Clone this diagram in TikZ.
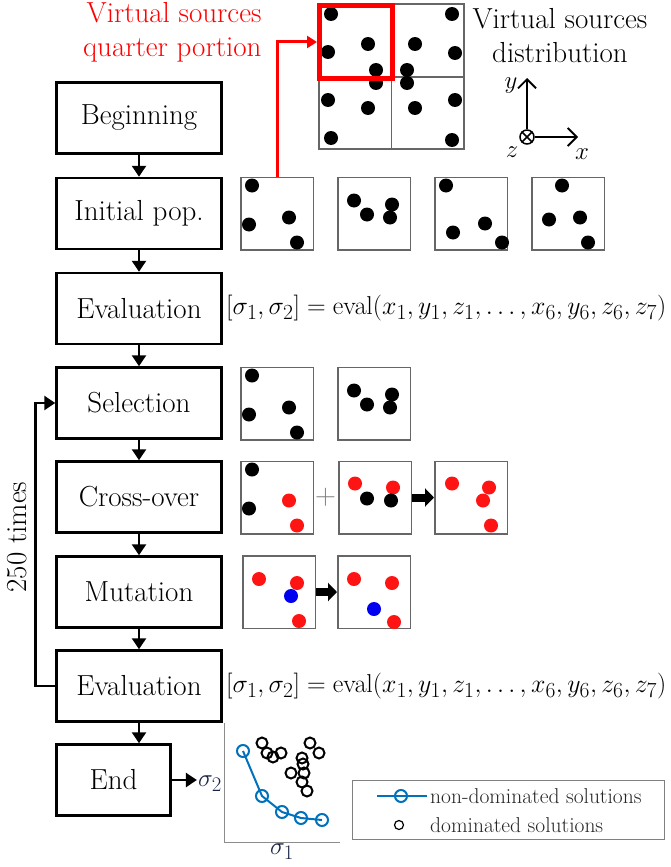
\documentclass[tikz,border=0pt]{standalone}
\usetikzlibrary{arrows.meta,calc}
\definecolor{mblue}{RGB}{0,114,189}
\definecolor{navy}{RGB}{25,35,70}
\definecolor{dotred}{RGB}{255,20,20}
\definecolor{dotblue}{RGB}{0,0,240}
\newcommand\mydot[4]{\fill[#1] ($(#2.north west)+(#3,#4)$) circle[radius=7pt];}
\begin{document}
\begin{tikzpicture}[x=1pt,y=-1pt,
  font=\fontsize{29}{34}\selectfont,
  box/.style={draw, line width=2.5pt, minimum width=165pt, minimum height=71pt, inner sep=0pt},
  flow/.style={line width=2.5pt, -{Triangle[width=14pt,length=11pt]}},
  sqr/.style={draw=black!60, line width=1.5pt, minimum size=72.5pt, inner sep=0pt},
  blk/.style={line width=8pt, -{Triangle[width=18pt,length=9pt]}},
  axis/.style={line width=1.8pt, -{Straight Barb[length=9pt,width=18pt]}},
  dom/.style={line width=2pt},
  legtext/.style={anchor=west, inner sep=0pt, font=\fontsize{21.5}{26}\selectfont, text=black!85},
]
\useasboundingbox (0,0) rectangle (670,867);

% ---------- flow boxes ----------
\node[box] (b1) at (139,118) {Beginning};
\node[box] (b2) at (139,213.5) {Initial pop.};
\node[box] (b3) at (139,308.5) {Evaluation};
\node[box] (b4) at (139,403) {Selection};
\node[box] (b5) at (139,497) {Cross-over};
\node[box] (b6) at (139,592) {Mutation};
\node[box] (b7) at (139,686) {Evaluation};
\node[box, minimum width=114pt] (b8) at (113.5,780) {End};
\foreach \a/\b in {b1/b2,b2/b3,b3/b4,b4/b5,b5/b6,b6/b7} {\draw[flow] (\a) -- (\b);}
\draw[flow] (b7.south) -- (b7.south |- b8.north);
\draw[flow] (b7.west) -- ++(-20,0) |- (b4.west);
\node[rotate=90] (loop) at (17,537) {250 times};

% ---------- top: virtual sources distribution ----------
\node[sqr] (g1) at (355,40.5) {};
\node[sqr] (g2) at (427.5,40.5) {};
\node[sqr] (g3) at (355,112.5) {};
\node[sqr] (g4) at (427.5,112.5) {};
\foreach \p in {(331,14),(328,52),(368,44),(376,70),(452,14),(415,44),(455,53),(407,70),
               (376,83),(328,100),(368,108),(331,138),(407,83),(455,100),(415,108),(452,140)}
  {\fill \p circle[radius=7pt];}
\node[draw=red, line width=5pt, minimum size=73pt, inner sep=0pt] (rq) at (356,42) {};
\node[red, align=right, anchor=east] (rt) at (265,32) {Virtual sources\\quarter portion};
\node[align=center] (vt) at (560,36) {Virtual sources\\distribution};

% axes symbol
\node[circle, draw, line width=1.5pt, minimum size=14pt, inner sep=0pt] (oz) at (527,137) {};
\draw[line width=1.5pt] (oz.north east) -- (oz.south west) (oz.north west) -- (oz.south east);
\coordinate (ay) at (527,78);
\coordinate (ax) at (578,137);
\draw[axis] (oz.north) -- (ay);
\draw[axis] (oz.east) -- (ax);
\node (ly) at (511,86) {$y$};
\node (lz) at (512,152) {$z$};
\node (lx) at (582,154) {$x$};

% ---------- initial population ----------
\node[sqr] (ip1) at (277,213.5) {};
\node[sqr] (ip2) at (374,213.5) {};
\node[sqr] (ip3) at (471,213.5) {};
\node[sqr] (ip4) at (568,213.5) {};
\foreach \x/\y in {12/9,9/48,49/41,57/66} {\mydot{black}{ip1}{\x}{\y}}
\foreach \x/\y in {17/24,30/38,55/28,53/41} {\mydot{black}{ip2}{\x}{\y}}
\foreach \x/\y in {12/9,19/56,51/47,68/66} {\mydot{black}{ip3}{\x}{\y}}
\foreach \x/\y in {31/9,18/43,49/41,57/66} {\mydot{black}{ip4}{\x}{\y}}
\draw[red, line width=3pt, -{Triangle[width=12pt,length=10pt]}] (ip1.north) |- (rq.west);

% ---------- evaluation formulas ----------
\node[anchor=west, inner sep=0pt] (f1) at (226,308.5)
  {\resizebox{440pt}{!}{$[\sigma_1,\sigma_2]=\mathrm{eval}(x_1,y_1,z_1,\ldots,x_6,y_6,z_6,z_7)$}};
\node[anchor=west, inner sep=0pt] (f2) at (226,686)
  {\resizebox{440pt}{!}{$[\sigma_1,\sigma_2]=\mathrm{eval}(x_1,y_1,z_1,\ldots,x_6,y_6,z_6,z_7)$}};

% ---------- selection ----------
\node[sqr] (se1) at (277,403.5) {};
\node[sqr] (se2) at (374,403.5) {};
\foreach \x/\y in {12/9,9/48,49/41,57/66} {\mydot{black}{se1}{\x}{\y}}
\foreach \x/\y in {17/24,30/38,55/28,53/41} {\mydot{black}{se2}{\x}{\y}}

% ---------- cross-over ----------
\node[sqr] (co1) at (277,497.5) {};
\node[sqr] (co2) at (375,497.5) {};
\node[sqr] (co3) at (471,497.5) {};
\foreach \x/\y in {12/9,9/48} {\mydot{black}{co1}{\x}{\y}}
\foreach \x/\y in {49/40,57/65} {\mydot{dotred}{co1}{\x}{\y}}
\foreach \x/\y in {17/23,55/27} {\mydot{dotred}{co2}{\x}{\y}}
\foreach \x/\y in {29/38,53/40} {\mydot{black}{co2}{\x}{\y}}
\foreach \x/\y in {18/23,55/27,49/40,57/65} {\mydot{dotred}{co3}{\x}{\y}}
\node[black!50] (plus) at (325.5,497) {+};
\draw[blk] (co2.east) -- (co3.west);

% ---------- mutation ----------
\node[sqr] (mu1) at (279,592) {};
\node[sqr] (mu2) at (374,592) {};
\foreach \x/\y in {17/24,55/28,57/66} {\mydot{dotred}{mu1}{\x}{\y}}
\mydot{dotblue}{mu1}{49}{41}
\foreach \x/\y in {17/24,55/28,57/67} {\mydot{dotred}{mu2}{\x}{\y}}
\mydot{dotblue}{mu2}{37}{54}
\draw[blk] (mu1.east) -- (mu2.west);

% ---------- end: Pareto plot ----------
\node[navy, inner sep=1pt] (s2) at (210,784) {$\sigma_2$};
\draw[flow] (b8.east) -- (b8.east -| s2.west);
\draw[black!45, line width=1pt] (224,723) -- (224,842) -- (340,842);
\node[navy] (s1) at (282,852) {$\sigma_1$};
\draw[mblue, line width=2pt] (243,751) -- (262,796) -- (282,812) -- (301,818) -- (322,820);
\foreach \p in {(243,751),(262,796),(282,812),(301,818),(322,820)}
  {\draw[mblue, line width=2pt] \p circle[radius=6pt];}
\foreach \p in {(262,743),(267,753),(273,757),(281,753),(310,743),(319,753),
               (302,758),(303,764),(291,773),(304,773),(302,782),(307,791)}
  {\draw[dom] \p circle[radius=5.5pt];}

% legend
\node[draw=black!50, line width=1pt, minimum width=312pt, minimum height=59pt, inner sep=0pt] (leg) at (508.5,810) {};
\draw[mblue, line width=2pt] (377,796) -- (427,796);
\draw[mblue, line width=2pt] (401,796) circle[radius=6pt];
\node[legtext] (l1) at (430,796) {non-dominated solutions};
\draw[line width=1.2pt] (399,825) circle[radius=4.5pt];
\node[legtext] (l2) at (430,825) {dominated solutions};
\end{tikzpicture}
\end{document}
